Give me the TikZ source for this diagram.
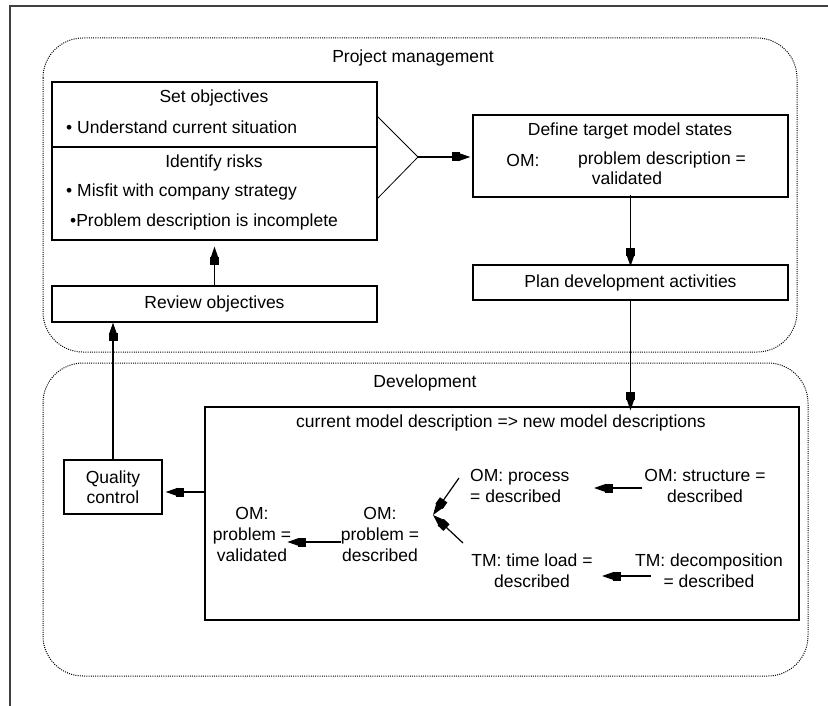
\documentclass[tikz,border=0pt]{standalone}
\usepackage{fontspec}
\setmainfont{Liberation Sans}
\usetikzlibrary{arrows.meta,calc}
\begin{document}
\begin{tikzpicture}[x=1pt,y=-1pt,
  every node/.style={font=\fontsize{17.5}{21}\selectfont, inner sep=0pt},
  box/.style={draw, line width=1.3pt, rectangle},
  label/.style={align=center},
  region/.style={dash pattern=on 1pt off 1.2pt, line width=1pt, rounded corners=40pt},
  arr/.style={line width=1.2pt,
    -{Square[length=8pt,width=9pt,sep=-1.5pt]Triangle[length=12pt,width=8pt]}},
  thin/.style={line width=0.8pt}]
\useasboundingbox (0,0) rectangle (828,706);

% outer frame (left and top edges)
\draw[line width=1.6pt, black!75] (10,706) -- (10,6) -- (828,6);

% the two regions
\draw[region] (43,38) rectangle (797,352);
\draw[region] (43,363) rectangle (808,676);
\node (pmtitle) at (413,58) {Project management};
\node (devtitle) at (425,383) {Development};

% objectives and risks
\node[box, minimum width=325pt, minimum height=158pt] (setobj) at (214.5,161) {};
\draw[line width=1.3pt] (52,147) -- (377,147);
\node (setttl) at (214,98) {Set objectives};
\node[anchor=west] (undst) at (66,127) {• Understand current situation};
\node (risks) at (214,163) {Identify risks};
\node[anchor=west] (misfit) at (66,192) {• Misfit with company strategy};
\node[anchor=west] (incomp) at (70,222) {•Problem description is incomplete};

\node[box, minimum width=325pt, minimum height=36pt] (review) at (214.5,304) {Review objectives};

% target states and planning
\node[box, minimum width=315pt, minimum height=82pt] (define) at (630.5,156) {};
\node (defttl) at (630,131) {Define target model states};
\node (om) at (523,160) {OM:};
\node (probdesc) at (662,160) {problem description =};
\node (valid) at (627,178) {validated};

\node[box, minimum width=315pt, minimum height=35pt] (plan) at (630.5,282.5) {Plan development activities};

% joining fork between objectives and target states
\coordinate (forkup) at (377,116);
\coordinate (forklo) at (377,199);
\coordinate (apex) at (418,157);
\draw[thin] (forkup) -- (apex) -- (forklo);
\draw[arr] (apex) -- ([xshift=-2pt]define.west |- apex);

\draw[arr] ([yshift=3pt]define.south) -- ([yshift=-2pt]plan.north);
\draw[arr] (review.north) -- ([yshift=-6pt]setobj.south);

% development
\node[box, minimum width=594pt, minimum height=213pt] (big) at (502,513.5) {};
\node (bigttl) at (501,423) {current model description => new model descriptions};

\node[box, minimum width=98pt, minimum height=54pt, label] (quality) at (113,487) {Quality\\[-1pt]control};

\draw[arr] (plan.south) -- ([yshift=-4pt]plan.south |- big.north);
\draw[arr] (quality.north) -- (quality.north |- review.south);
\draw[arr] (big.west |- 0,492) -- ([xshift=3pt]quality.east |- 0,492);

% model states
\node[label] (omval) at (252,534) {OM:\\problem =\\validated};
\node[label] (omdesc) at (380,534) {OM:\\problem =\\described};
\node[align=left, anchor=west] (omproc) at (470,486) {OM: process\\= described};
\node[label] (omstruct) at (705,486) {OM: structure =\\described};
\node[label] (tmtime) at (532,571) {TM: time load =\\described};
\node[label] (tmdecomp) at (709,571) {TM: decomposition\\= described};

\draw[arr] (omdesc.west |- 0,542) -- ([xshift=-4pt]omval.east |- 0,542);
\coordinate (split) at (433,515);
\coordinate (procfoot) at (459,478);
\coordinate (timefoot) at (463,543);
\draw[arr] (procfoot) -- (split);
\draw[arr] (timefoot) -- (split);
\draw[arr] ([xshift=-2pt]omstruct.west |- 0,488) -- (594,488);
\draw[arr] (651,576) -- (602,576);
\end{tikzpicture}
\end{document}
